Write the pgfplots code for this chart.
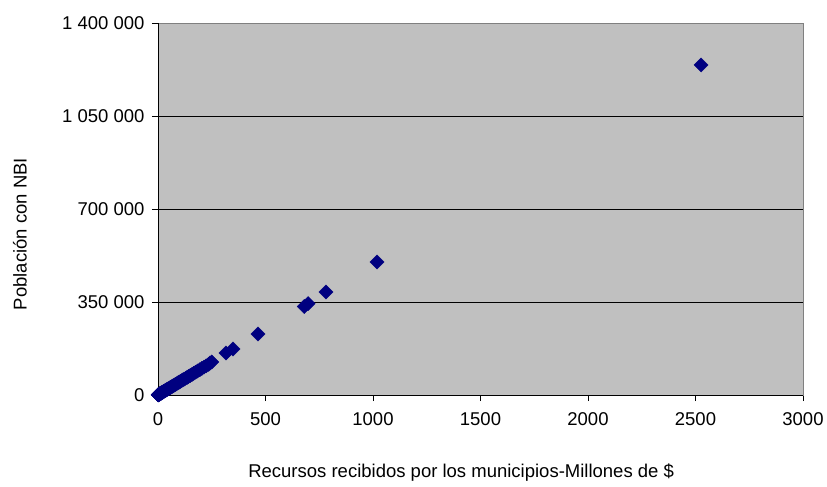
\documentclass[border=0pt]{standalone}
\usepackage{pgfplots}
\pgfplotsset{compat=1.18}
\usepackage{fontspec}
\setmainfont{Liberation Sans}
\definecolor{plotbg}{HTML}{C0C0C0}
\definecolor{navyc}{HTML}{000080}
\definecolor{bordergray}{HTML}{808080}
\pgfplotstableread{
x y
0.5 300
1 600
1.5 700
2 1000
2.5 1200
3 1500
3.5 1700
4 2000
5 2400
6 3000
7 3400
8 4000
9 4400
10 5000
11 5300
12 6000
13 6400
14 6900
15 7300
17 8300
19 9400
21 10300
23 11200
25 12300
27 13200
30 14700
33 16100
36 17700
39 19100
42 20600
45 22000
48 23500
52 25500
56 27400
60 29400
64 31400
68 33300
72 35300
77 37700
82 40200
87 42600
92 45100
98 48000
104 51000
110 53900
116 56800
122 59800
128 62700
135 66200
142 69600
150 73500
158 77400
166 81300
175 85700
184 90200
194 95000
204 100000
214 104900
224 109800
235 115200
242 120400
250 124000
316 158000
349 173100
465 229600
680 333000
698 344000
781 387600
1019 500500
2526 1242000
}\datatable
\begin{document}
\begin{tikzpicture}[font=\fontsize{18.5bp}{22bp}\selectfont]
\begin{axis}[
  scale only axis, width=645bp, height=372bp,
  xmin=0, xmax=3000, ymin=0, ymax=1400000,
  xtick={0,500,...,3000},
  ytick={0,350000,700000,1050000,1400000},
  yticklabels={0,350 000,700 000,1 050 000,1 400 000},
  scaled x ticks=false, scaled y ticks=false,
  xticklabel style={/pgf/number format/1000 sep={}, yshift=-8bp},
  yticklabel style={xshift=-4bp},
  /pgf/number format/assume math mode=true,
  tick align=outside, tick pos=left, major tick length=6bp,
  tick style={black, line width=0.8pt},
  axis background/.style={fill=plotbg},
  axis line style={draw=bordergray, line width=0.8pt},
  ymajorgrids, grid style={black, line width=0.8pt},
  xlabel={Recursos recibidos por los municipios-Millones de \$},
  ylabel={Población con NBI},
  xlabel style={at={(axis description cs:0.47,-0.176)}, anchor=north},
  ylabel style={at={(axis description cs:-0.214,0.433)}, anchor=center},
  clip=false,
]
\draw[black, line width=0.8pt] (rel axis cs:0,1) -- (rel axis cs:0,0) -- (rel axis cs:1,0);
\addplot[only marks, mark=square*, mark size=5bp, mark options={rotate=45, fill=navyc, draw=navyc}] table[x=x,y=y] {\datatable};
\path (rel axis cs:0,0) ++(-158bp,-92bp) coordinate (bbsw);
\path (rel axis cs:1,1) ++(24bp,23bp) coordinate (bbne);
\end{axis}
\useasboundingbox (bbsw) rectangle (bbne);
\end{tikzpicture}
\end{document}
